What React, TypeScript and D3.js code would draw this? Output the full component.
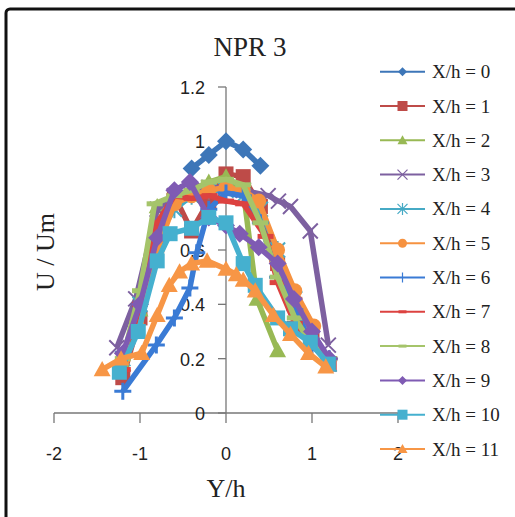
import React from 'react';
import * as d3 from 'd3';

const W = 515;
const H = 517;

// series names and tick values
const seriesNames = [
  'X/h = 0', 'X/h = 1', 'X/h = 2', 'X/h = 3', 'X/h = 4', 'X/h = 5',
  'X/h = 6', 'X/h = 7', 'X/h = 8', 'X/h = 9', 'X/h = 10', 'X/h = 11',
];
const xTicks = [-2, -1, 0, 1, 2];
const yTicks = [0, 0.2, 0.4, 0.6, 0.8, 1, 1.2];

// [Y/h, U/Um]
const s0: [number, number][] = [[-0.4, 0.9], [-0.2, 0.95], [0, 1.0], [0.2, 0.97], [0.4, 0.91]];
const s1: [number, number][] = [[-1.2, 0.13], [-1.0, 0.35], [-0.8, 0.65], [-0.6, 0.8], [-0.4, 0.67], [-0.2, 0.78], [0, 0.88], [0.2, 0.87], [0.4, 0.76], [0.6, 0.55], [0.8, 0.4], [1.0, 0.28], [1.2, 0.18]];
const s2: [number, number][] = [[-1.2, 0.18], [-1.0, 0.38], [-0.8, 0.76], [-0.6, 0.8], [-0.4, 0.82], [-0.2, 0.85], [0, 0.87], [0.2, 0.82], [0.36, 0.42], [0.6, 0.23]];
const s3: [number, number][] = [[-1.27, 0.24], [-1.05, 0.42], [-0.8, 0.75], [-0.6, 0.8], [-0.4, 0.82], [-0.2, 0.83], [0, 0.83], [0.2, 0.82], [0.49, 0.8], [0.61, 0.78], [0.75, 0.76], [0.98, 0.67], [1.19, 0.25]];
const s4: [number, number][] = [[-1.2, 0.2], [-1.0, 0.4], [-0.8, 0.65], [-0.6, 0.75], [-0.4, 0.8], [-0.2, 0.82], [0, 0.82], [0.2, 0.8], [0.4, 0.75], [0.6, 0.6], [0.8, 0.42], [1.0, 0.25], [1.2, 0.18]];
const s5: [number, number][] = [[-1.2, 0.2], [-1.04, 0.33], [-0.8, 0.6], [-0.6, 0.77], [-0.4, 0.8], [-0.2, 0.82], [0, 0.83], [0.2, 0.82], [0.38, 0.78], [0.6, 0.6], [0.8, 0.45], [1.02, 0.32]];
const s6: [number, number][] = [[-1.2, 0.08], [-0.81, 0.25], [-0.6, 0.35], [-0.42, 0.46], [-0.34, 0.59], [-0.2, 0.75], [0, 0.81], [0.2, 0.8], [0.4, 0.7], [0.6, 0.5], [0.8, 0.38], [1.0, 0.25], [1.2, 0.2]];
const s7: [number, number][] = [[-1.2, 0.16], [-1.0, 0.4], [-0.8, 0.7], [-0.6, 0.8], [-0.4, 0.79], [-0.19, 0.8], [0, 0.78], [0.2, 0.77], [0.46, 0.65], [0.6, 0.48], [0.8, 0.33], [1.0, 0.25], [1.2, 0.2]];
const s8: [number, number][] = [[-1.2, 0.2], [-1.0, 0.45], [-0.83, 0.77], [-0.6, 0.8], [-0.4, 0.82], [-0.2, 0.85], [0, 0.86], [0.2, 0.84], [0.4, 0.7], [0.6, 0.5], [0.8, 0.35], [1.0, 0.25], [1.2, 0.2]];
const s9: [number, number][] = [[-1.2, 0.22], [-1.0, 0.4], [-0.8, 0.645], [-0.6, 0.82], [-0.42, 0.85], [-0.2, 0.72], [0, 0.69], [0.16, 0.66], [0.38, 0.61], [0.6, 0.55], [0.79, 0.42], [1.0, 0.3], [1.2, 0.2]];
const s10: [number, number][] = [[-1.24, 0.15], [-1.02, 0.3], [-0.8, 0.56], [-0.65, 0.66], [-0.4, 0.68], [-0.2, 0.72], [0, 0.7], [0.2, 0.55], [0.34, 0.47], [0.6, 0.35], [0.75, 0.31], [0.98, 0.26], [1.19, 0.18]];
const s11: [number, number][] = [[-1.44, 0.16], [-1.22, 0.2], [-0.98, 0.22], [-0.8, 0.36], [-0.66, 0.47], [-0.54, 0.52], [-0.4, 0.55], [-0.22, 0.56], [0, 0.53], [0.12, 0.51], [0.2, 0.49], [0.34, 0.45], [0.55, 0.36], [0.75, 0.29], [0.96, 0.22], [1.16, 0.17]];

const allSeries = [s0, s1, s2, s3, s4, s5, s6, s7, s8, s9, s10, s11];
const colors = [
  '#3d76b8', '#be4b48', '#98b954', '#7d60a0', '#46aac5', '#f69240',
  '#3a7bd5', '#dc4240', '#a5c46a', '#7f5bb3', '#45b0cf', '#f79646',
];
const markers = ['diamond', 'square', 'triangle', 'x', 'star', 'circle', 'plus', 'dash', 'dash', 'diamond', 'square', 'triangle'];

const SERIF = '"Liberation Serif", "DejaVu Serif", serif';
const SANS = '"Liberation Sans", Arial, sans-serif';

const x = d3.scaleLinear().domain([-2, 2]).range([54, 398]);
const y = d3.scaleLinear().domain([0, 1.2]).range([413, 87]);

function Marker({ type, cx, cy, r, color, thin }: { type: string; cx: number; cy: number; r: number; color: string; thin?: boolean }) {
  const sw = thin ? 1.2 : 2;
  switch (type) {
    case 'diamond':
      return <path d={`M${cx},${cy - r}L${cx + r},${cy}L${cx},${cy + r}L${cx - r},${cy}Z`} fill={color} />;
    case 'square':
      return <rect x={cx - r} y={cy - r} width={2 * r} height={2 * r} fill={color} />;
    case 'triangle':
      return <path d={`M${cx},${cy - r}L${cx + r},${cy + r * 0.8}L${cx - r},${cy + r * 0.8}Z`} fill={color} />;
    case 'circle':
      return <circle cx={cx} cy={cy} r={r} fill={color} />;
    case 'x':
      return <path d={`M${cx - r},${cy - r}L${cx + r},${cy + r}M${cx - r},${cy + r}L${cx + r},${cy - r}`} stroke={color} strokeWidth={sw} />;
    case 'star':
      return <path d={`M${cx - r},${cy - r}L${cx + r},${cy + r}M${cx - r},${cy + r}L${cx + r},${cy - r}M${cx},${cy - r * 1.2}L${cx},${cy + r * 1.2}`} stroke={color} strokeWidth={sw} />;
    case 'plus':
      return <path d={`M${cx - r},${cy}L${cx + r},${cy}M${cx},${cy - r}L${cx},${cy + r}`} stroke={color} strokeWidth={thin ? 1.2 : 3} />;
    case 'dash':
      return <rect x={cx - r} y={cy - (thin ? 1.5 : 2.5)} width={2 * r} height={thin ? 3 : 5} fill={color} />;
    default:
      return null;
  }
}

const plotR: Record<string, number> = { diamond: 9, square: 7.5, triangle: 8.5, circle: 7.5, x: 7.5, star: 7.5, plus: 8.5, dash: 8 };
const legR: Record<string, number> = { diamond: 4.5, square: 5, triangle: 5, circle: 4.5, x: 5, star: 5, plus: 5, dash: 4 };

export default function App() {
  const line = d3.line<[number, number]>().x(d => x(d[0])).y(d => y(d[1]));
  const axisColor = '#777';

  return (
    <div style={{ position: 'fixed', left: 0, top: 0 }}>
      <svg width={W} height={H} style={{ display: 'block', background: '#fff' }}>
        {/* outer frame */}
        <rect x={6} y={9} width={560} height={560} rx={4} fill="none" stroke="#111" strokeWidth={3} />

        {/* title */}
        <text x={250} y={56} textAnchor="middle" fontFamily={SERIF} fontSize={27} fill="#222">NPR 3</text>

        {/* axes */}
        <line x1={x(-2)} x2={x(2)} y1={y(0)} y2={y(0)} stroke={axisColor} strokeWidth={1.3} />
        <line x1={x(0)} x2={x(0)} y1={y(0)} y2={y(1.2)} stroke={axisColor} strokeWidth={1.3} />
        {xTicks.map(t => (
          <g key={`xt${t}`}>
            <line x1={x(t)} x2={x(t)} y1={y(0)} y2={y(0) + 10} stroke={axisColor} strokeWidth={1.3} />
            <text x={x(t)} y={460} textAnchor="middle" fontFamily={SANS} fontSize={18} fill="#222">{t}</text>
          </g>
        ))}
        {yTicks.map(t => (
          <g key={`yt${t}`}>
            <line x1={x(0) - 8} x2={x(0)} y1={y(t)} y2={y(t)} stroke={axisColor} strokeWidth={1.3} />
            <text x={205} y={y(t) + 7} textAnchor="end" fontFamily={SANS} fontSize={18} fill="#222">{String(Math.round(t * 10) / 10)}</text>
          </g>
        ))}

        {/* axis titles */}
        <text x={226} y={497} textAnchor="middle" fontFamily={SERIF} fontSize={26} fill="#222">Y/h</text>
        <text transform="translate(54,252) rotate(-90)" textAnchor="middle" fontFamily={SERIF} fontSize={26} fill="#222">U / Um</text>

        {/* series */}
        {allSeries.map((s, i) => (
          <g key={`s${i}`}>
            <path d={line(s) || ''} fill="none" stroke={colors[i]} strokeWidth={5.5} strokeLinejoin="round" />
            {s.map((d, j) => (
              <Marker key={j} type={markers[i]} cx={x(d[0])} cy={y(d[1])} r={plotR[markers[i]]} color={colors[i]} />
            ))}
          </g>
        ))}

        {/* legend */}
        {seriesNames.map((name, i) => {
          const ly = 71.7 + i * 34.3;
          return (
            <g key={`lg${i}`}>
              <line x1={380} x2={425} y1={ly} y2={ly} stroke={colors[i]} strokeWidth={2} />
              <Marker type={markers[i]} cx={402.5} cy={ly} r={legR[markers[i]]} color={colors[i]} thin />
              <text x={432} y={ly + 6.5} fontFamily={SERIF} fontSize={19} fill="#222">{name}</text>
            </g>
          );
        })}
      </svg>
    </div>
  );
}
